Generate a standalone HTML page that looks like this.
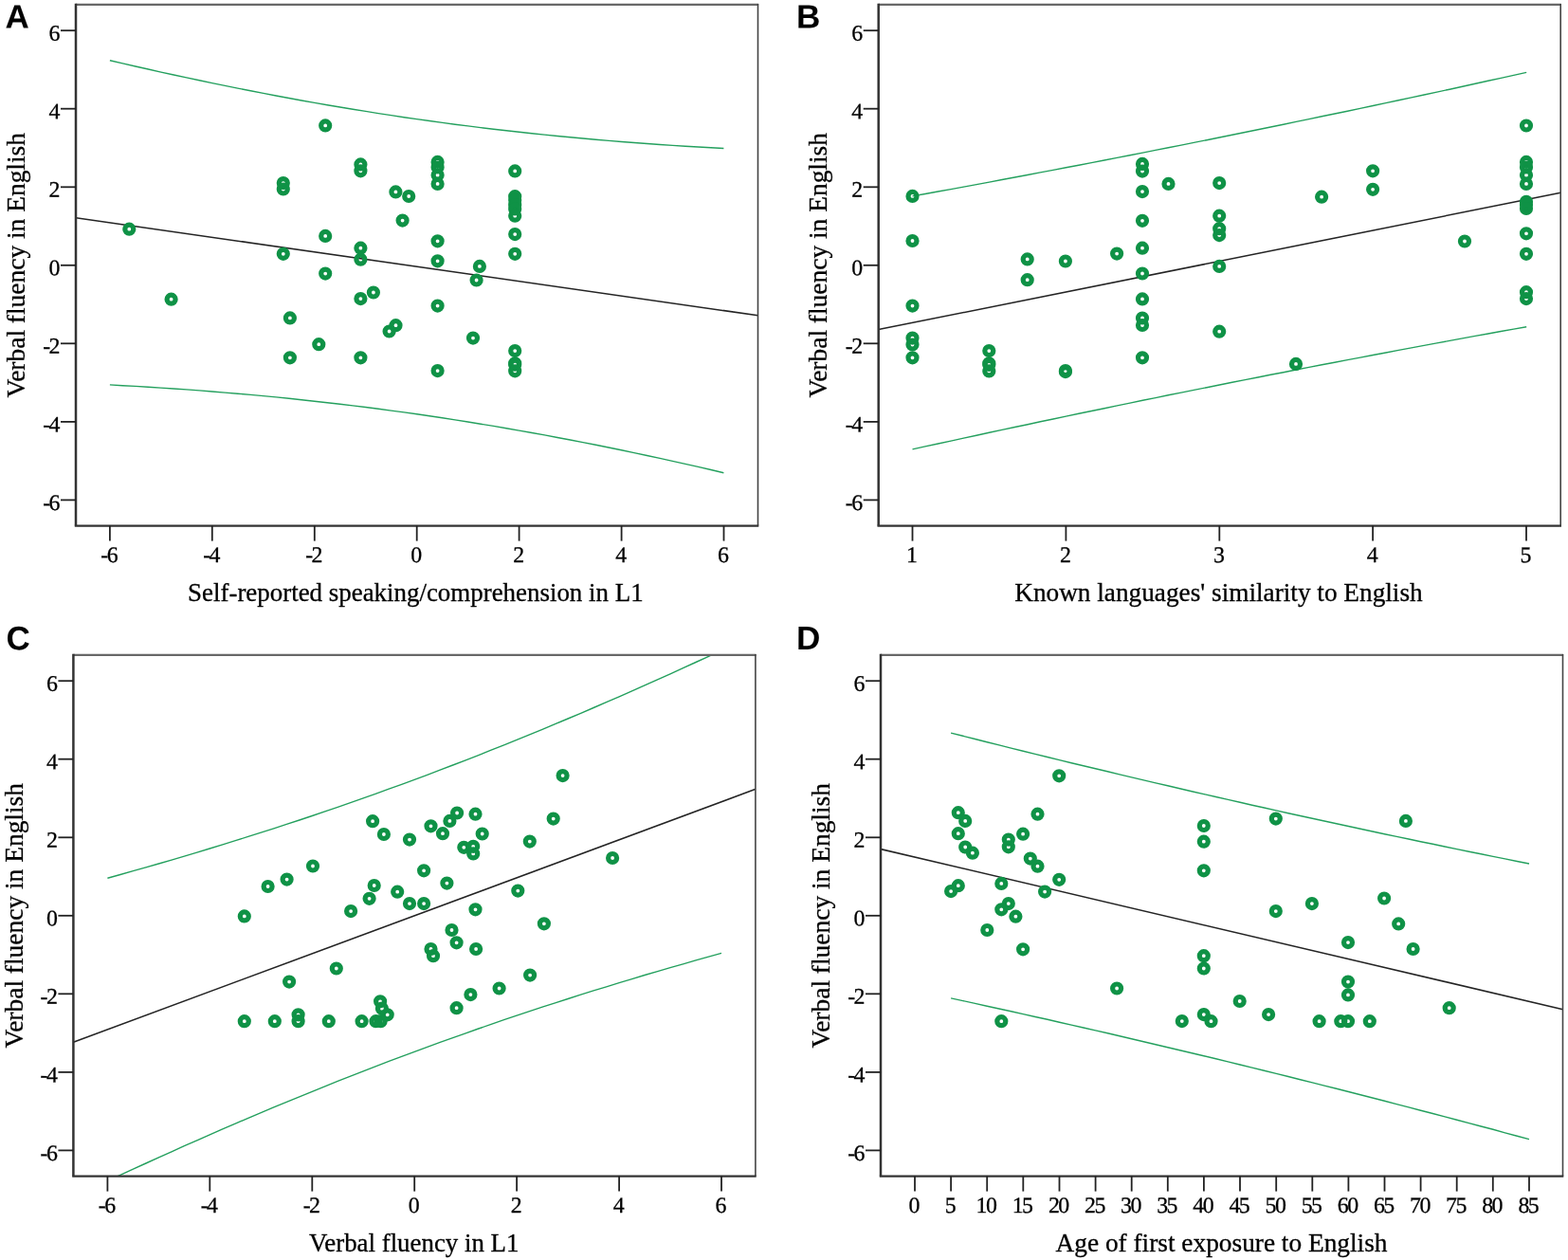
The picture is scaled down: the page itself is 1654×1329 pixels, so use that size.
<!DOCTYPE html>
<html lang="en"><head><meta charset="utf-8"><title>Verbal fluency scatter plots</title>
<style>html,body{margin:0;padding:0;background:#fff}svg{display:block}.t{font-family:"Liberation Serif","Times New Roman",serif;fill:#000}.k{font-size:23.8px;stroke:#000;stroke-width:.3px;letter-spacing:-1.5px}.a{font-size:27px;stroke:#000;stroke-width:.3px}.p{font-family:"Liberation Sans",Arial,sans-serif;font-weight:bold;font-size:35px;fill:#000}.fr{fill:none;stroke:#333333;stroke-width:2.3}.fl{fill:none;stroke:#333;stroke-width:2.5}.ft{fill:none;stroke:#686868;stroke-width:2.3}.fg{fill:none;stroke:#444;stroke-width:1.6}.tk{stroke:#222;stroke-width:1.8;fill:none}.bl{stroke:#242424;stroke-width:1.55;fill:none}.gl{stroke:#24a05e;stroke-width:1.4;fill:none}.pt circle{fill:none;stroke:#0f9246;stroke-width:5.2}</style></head><body>
<svg width="1654" height="1329" viewBox="0 0 1654 1329" role="img" aria-label="Scatter plots of verbal fluency in English against four predictors">
<rect width="1654" height="1329" fill="#ffffff"/>
<g id="panel-A">
<clipPath id="clipA"><rect x="80" y="4.9" width="719.7" height="549.7"/></clipPath>
<g clip-path="url(#clipA)">
<path class="gl" d="M115.9 63.7 L129.4 66.9 L142.9 70.0 L156.4 73.0 L169.9 76.1 L183.3 79.0 L196.8 81.9 L210.3 84.8 L223.8 87.6 L237.3 90.4 L250.8 93.1 L264.3 95.8 L277.8 98.4 L291.3 101.0 L304.8 103.5 L318.2 106.0 L331.7 108.4 L345.2 110.7 L358.7 113.0 L372.2 115.3 L385.7 117.4 L399.2 119.6 L412.7 121.6 L426.2 123.7 L439.6 125.6 L453.1 127.5 L466.6 129.4 L480.1 131.2 L493.6 132.9 L507.1 134.6 L520.6 136.2 L534.1 137.8 L547.6 139.3 L561.1 140.7 L574.5 142.1 L588.0 143.5 L601.5 144.8 L615.0 146.0 L628.5 147.2 L642.0 148.4 L655.5 149.5 L669.0 150.5 L682.5 151.5 L696.0 152.5 L709.4 153.4 L722.9 154.2 L736.4 155.0 L749.9 155.8 L763.4 156.5"/>
<path class="gl" d="M115.9 405.9 L129.4 406.7 L142.9 407.4 L156.4 408.2 L169.9 409.1 L183.3 410.0 L196.8 410.9 L210.3 411.9 L223.8 413.0 L237.3 414.1 L250.8 415.2 L264.3 416.4 L277.8 417.6 L291.3 418.9 L304.8 420.3 L318.2 421.7 L331.7 423.2 L345.2 424.7 L358.7 426.2 L372.2 427.9 L385.7 429.5 L399.2 431.3 L412.7 433.1 L426.2 434.9 L439.6 436.8 L453.1 438.8 L466.6 440.8 L480.1 442.9 L493.6 445.0 L507.1 447.2 L520.6 449.4 L534.1 451.7 L547.6 454.1 L561.1 456.5 L574.5 458.9 L588.0 461.5 L601.5 464.0 L615.0 466.6 L628.5 469.3 L642.0 472.0 L655.5 474.8 L669.0 477.6 L682.5 480.5 L696.0 483.4 L709.4 486.4 L722.9 489.4 L736.4 492.4 L749.9 495.5 L763.4 498.7"/>
<path class="bl" d="M80 229.7 L799.7 332.8"/>
</g>
<g class="pt">
<circle cx="136.3" cy="241.7" r="4.5"/>
<circle cx="180.6" cy="315.7" r="4.5"/>
<circle cx="298.8" cy="193.1" r="4.5"/>
<circle cx="298.8" cy="199.5" r="4.5"/>
<circle cx="298.8" cy="267.8" r="4.5"/>
<circle cx="305.9" cy="335.4" r="4.5"/>
<circle cx="305.9" cy="377.3" r="4.5"/>
<circle cx="336.3" cy="363.2" r="4.5"/>
<circle cx="343.2" cy="132.4" r="4.5"/>
<circle cx="343.2" cy="248.9" r="4.5"/>
<circle cx="343.2" cy="288.6" r="4.5"/>
<circle cx="380.4" cy="173.4" r="4.5"/>
<circle cx="380.4" cy="180.3" r="4.5"/>
<circle cx="380.4" cy="261.7" r="4.5"/>
<circle cx="380.4" cy="273.7" r="4.5"/>
<circle cx="380.4" cy="315.1" r="4.5"/>
<circle cx="380.4" cy="377.3" r="4.5"/>
<circle cx="393.9" cy="308.5" r="4.5"/>
<circle cx="410.6" cy="349.5" r="4.5"/>
<circle cx="417.5" cy="343.2" r="4.5"/>
<circle cx="417.4" cy="202.4" r="4.5"/>
<circle cx="431.2" cy="207" r="4.5"/>
<circle cx="424.6" cy="232.6" r="4.5"/>
<circle cx="461.6" cy="170.9" r="4.5"/>
<circle cx="461.6" cy="176.5" r="4.5"/>
<circle cx="461.6" cy="184.7" r="4.5"/>
<circle cx="461.6" cy="193.9" r="4.5"/>
<circle cx="461.6" cy="254.3" r="4.5"/>
<circle cx="461.6" cy="275.3" r="4.5"/>
<circle cx="461.6" cy="322.6" r="4.5"/>
<circle cx="461.6" cy="391.1" r="4.5"/>
<circle cx="499" cy="356.6" r="4.5"/>
<circle cx="502.6" cy="295.5" r="4.5"/>
<circle cx="505.9" cy="280.9" r="4.5"/>
<circle cx="543.2" cy="180.4" r="4.5"/>
<circle cx="543.2" cy="207.2" r="4.5"/>
<circle cx="543.2" cy="211" r="4.5"/>
<circle cx="543.2" cy="216.2" r="4.5"/>
<circle cx="543.2" cy="220.5" r="4.5"/>
<circle cx="543.2" cy="227.7" r="4.5"/>
<circle cx="543.2" cy="247.1" r="4.5"/>
<circle cx="543.2" cy="267.8" r="4.5"/>
<circle cx="543.2" cy="370.1" r="4.5"/>
<circle cx="543.2" cy="383.3" r="4.5"/>
<circle cx="543.2" cy="384.7" r="4.5"/>
<circle cx="543.2" cy="391.3" r="4.5"/>
</g>
<path class="ft" d="M80 4.9 H800.1"/>
<path class="fg" d="M799.5 4.1 V554.6"/>
<path class="fr" d="M78.8 554.6 H800.3"/>
<path class="fl" d="M80 3.8 V554.6"/>
<path class="tk" d="M64 32.2 H80"/>
<text class="t k" transform="translate(62 42.8) rotate(.2)" text-anchor="end">6</text>
<path class="tk" d="M64 114.7 H80"/>
<text class="t k" transform="translate(62 125.3) rotate(.2)" text-anchor="end">4</text>
<path class="tk" d="M64 197.3 H80"/>
<text class="t k" transform="translate(62 207.9) rotate(.2)" text-anchor="end">2</text>
<path class="tk" d="M64 279.8 H80"/>
<text class="t k" transform="translate(62 290.4) rotate(.2)" text-anchor="end">0</text>
<path class="tk" d="M64 362.3 H80"/>
<text class="t k" transform="translate(62 372.9) rotate(.2)" text-anchor="end">-2</text>
<path class="tk" d="M64 444.9 H80"/>
<text class="t k" transform="translate(62 455.5) rotate(.2)" text-anchor="end">-4</text>
<path class="tk" d="M64 527.4 H80"/>
<text class="t k" transform="translate(62 538) rotate(.2)" text-anchor="end">-6</text>
<path class="tk" d="M115.9 554.6 V570.6"/>
<text class="t k" transform="translate(114.7 593.1) rotate(.2)" text-anchor="middle">-6</text>
<path class="tk" d="M223.8 554.6 V570.6"/>
<text class="t k" transform="translate(222.6 593.1) rotate(.2)" text-anchor="middle">-4</text>
<path class="tk" d="M331.8 554.6 V570.6"/>
<text class="t k" transform="translate(330.6 593.1) rotate(.2)" text-anchor="middle">-2</text>
<path class="tk" d="M439.7 554.6 V570.6"/>
<text class="t k" transform="translate(438.5 593.1) rotate(.2)" text-anchor="middle">0</text>
<path class="tk" d="M547.6 554.6 V570.6"/>
<text class="t k" transform="translate(546.4 593.1) rotate(.2)" text-anchor="middle">2</text>
<path class="tk" d="M655.6 554.6 V570.6"/>
<text class="t k" transform="translate(654.4 593.1) rotate(.2)" text-anchor="middle">4</text>
<path class="tk" d="M763.5 554.6 V570.6"/>
<text class="t k" transform="translate(762.3 593.1) rotate(.2)" text-anchor="middle">6</text>
<text class="t a" x="198.1" y="633.9" textLength="480.5" lengthAdjust="spacingAndGlyphs">Self-reported speaking/comprehension in L1</text>
<text class="t a" transform="translate(25.6 279.8) rotate(-90)" x="-139.8" textLength="279.6" lengthAdjust="spacingAndGlyphs">Verbal fluency in English</text>
<text class="p" transform="translate(5.5 29.6) rotate(.2)">A</text>
</g>
<g id="panel-B">
<clipPath id="clipB"><rect x="926.7" y="4.9" width="719.7" height="549.7"/></clipPath>
<g clip-path="url(#clipB)">
<path class="gl" d="M962.5 206.9 L976.0 204.5 L989.5 202.0 L1003.0 199.6 L1016.5 197.1 L1030.0 194.6 L1043.5 192.1 L1057.0 189.5 L1070.5 187.0 L1083.9 184.5 L1097.4 181.9 L1110.9 179.4 L1124.4 176.8 L1137.9 174.2 L1151.4 171.6 L1164.9 169.0 L1178.4 166.4 L1191.9 163.7 L1205.4 161.1 L1218.9 158.4 L1232.4 155.8 L1245.9 153.1 L1259.4 150.4 L1272.9 147.7 L1286.3 145.0 L1299.8 142.2 L1313.3 139.5 L1326.8 136.8 L1340.3 134.0 L1353.8 131.2 L1367.3 128.4 L1380.8 125.6 L1394.3 122.8 L1407.8 120.0 L1421.3 117.2 L1434.8 114.4 L1448.3 111.5 L1461.8 108.6 L1475.3 105.8 L1488.8 102.9 L1502.2 100.0 L1515.7 97.1 L1529.2 94.2 L1542.7 91.2 L1556.2 88.3 L1569.7 85.3 L1583.2 82.4 L1596.7 79.4 L1610.2 76.4"/>
<path class="gl" d="M962.5 473.9 L976.0 470.9 L989.5 468.0 L1003.0 465.1 L1016.5 462.1 L1030.0 459.2 L1043.5 456.3 L1057.0 453.4 L1070.5 450.5 L1083.9 447.7 L1097.4 444.8 L1110.9 442.0 L1124.4 439.1 L1137.9 436.3 L1151.4 433.5 L1164.9 430.7 L1178.4 427.9 L1191.9 425.1 L1205.4 422.3 L1218.9 419.6 L1232.4 416.8 L1245.9 414.1 L1259.4 411.4 L1272.9 408.7 L1286.3 406.0 L1299.8 403.3 L1313.3 400.6 L1326.8 398.0 L1340.3 395.3 L1353.8 392.7 L1367.3 390.0 L1380.8 387.4 L1394.3 384.8 L1407.8 382.2 L1421.3 379.6 L1434.8 377.1 L1448.3 374.5 L1461.8 372.0 L1475.3 369.4 L1488.8 366.9 L1502.2 364.4 L1515.7 361.9 L1529.2 359.4 L1542.7 356.9 L1556.2 354.4 L1569.7 352.0 L1583.2 349.5 L1596.7 347.1 L1610.2 344.7"/>
<path class="bl" d="M926.7 347.6 L1646.3 203.3"/>
</g>
<g class="pt">
<circle cx="962.5" cy="206.9" r="4.5"/>
<circle cx="962.5" cy="254" r="4.5"/>
<circle cx="962.5" cy="322.6" r="4.5"/>
<circle cx="962.5" cy="356.6" r="4.5"/>
<circle cx="962.5" cy="363.5" r="4.5"/>
<circle cx="962.5" cy="377.3" r="4.5"/>
<circle cx="1043.3" cy="370.1" r="4.5"/>
<circle cx="1043.3" cy="383.3" r="4.5"/>
<circle cx="1043.3" cy="384.8" r="4.5"/>
<circle cx="1043.3" cy="391.4" r="4.5"/>
<circle cx="1083.7" cy="273.4" r="4.5"/>
<circle cx="1083.7" cy="295.2" r="4.5"/>
<circle cx="1123.9" cy="275.5" r="4.5"/>
<circle cx="1123.9" cy="391.1" r="4.5"/>
<circle cx="1123.9" cy="392.1" r="4.5"/>
<circle cx="1178.1" cy="267.6" r="4.5"/>
<circle cx="1205" cy="172.9" r="4.5"/>
<circle cx="1205" cy="180.6" r="4.5"/>
<circle cx="1205" cy="202.1" r="4.5"/>
<circle cx="1205" cy="232.8" r="4.5"/>
<circle cx="1205" cy="261.7" r="4.5"/>
<circle cx="1205" cy="288.5" r="4.5"/>
<circle cx="1205" cy="315.4" r="4.5"/>
<circle cx="1205" cy="335.5" r="4.5"/>
<circle cx="1205" cy="343" r="4.5"/>
<circle cx="1205" cy="377.3" r="4.5"/>
<circle cx="1232.5" cy="193.9" r="4.5"/>
<circle cx="1286.2" cy="193.1" r="4.5"/>
<circle cx="1286.2" cy="227.7" r="4.5"/>
<circle cx="1286.2" cy="241.2" r="4.5"/>
<circle cx="1286.2" cy="248.1" r="4.5"/>
<circle cx="1286.2" cy="280.9" r="4.5"/>
<circle cx="1286.2" cy="349.7" r="4.5"/>
<circle cx="1367" cy="383.9" r="4.5"/>
<circle cx="1394.1" cy="207.7" r="4.5"/>
<circle cx="1448.1" cy="180.3" r="4.5"/>
<circle cx="1448.1" cy="199.8" r="4.5"/>
<circle cx="1545" cy="254.5" r="4.5"/>
<circle cx="1610" cy="132.5" r="4.5"/>
<circle cx="1610" cy="170.9" r="4.5"/>
<circle cx="1610" cy="176.5" r="4.5"/>
<circle cx="1610" cy="184.7" r="4.5"/>
<circle cx="1610" cy="193.9" r="4.5"/>
<circle cx="1610" cy="212.8" r="4.5"/>
<circle cx="1610" cy="216.1" r="4.5"/>
<circle cx="1610" cy="220" r="4.5"/>
<circle cx="1610" cy="246.3" r="4.5"/>
<circle cx="1610" cy="267.8" r="4.5"/>
<circle cx="1610" cy="308.2" r="4.5"/>
<circle cx="1610" cy="315.1" r="4.5"/>
</g>
<path class="ft" d="M926.7 4.9 H1646.8"/>
<path class="fg" d="M1646.2 4.1 V554.6"/>
<path class="fr" d="M925.5 554.6 H1647"/>
<path class="fl" d="M926.7 3.8 V554.6"/>
<path class="tk" d="M910.7 32.2 H926.7"/>
<text class="t k" transform="translate(908.7 42.8) rotate(.2)" text-anchor="end">6</text>
<path class="tk" d="M910.7 114.7 H926.7"/>
<text class="t k" transform="translate(908.7 125.3) rotate(.2)" text-anchor="end">4</text>
<path class="tk" d="M910.7 197.3 H926.7"/>
<text class="t k" transform="translate(908.7 207.9) rotate(.2)" text-anchor="end">2</text>
<path class="tk" d="M910.7 279.8 H926.7"/>
<text class="t k" transform="translate(908.7 290.4) rotate(.2)" text-anchor="end">0</text>
<path class="tk" d="M910.7 362.3 H926.7"/>
<text class="t k" transform="translate(908.7 372.9) rotate(.2)" text-anchor="end">-2</text>
<path class="tk" d="M910.7 444.9 H926.7"/>
<text class="t k" transform="translate(908.7 455.5) rotate(.2)" text-anchor="end">-4</text>
<path class="tk" d="M910.7 527.4 H926.7"/>
<text class="t k" transform="translate(908.7 538) rotate(.2)" text-anchor="end">-6</text>
<path class="tk" d="M962.5 554.6 V570.6"/>
<text class="t k" transform="translate(961.3 593.1) rotate(.2)" text-anchor="middle">1</text>
<path class="tk" d="M1124.4 554.6 V570.6"/>
<text class="t k" transform="translate(1123.2 593.1) rotate(.2)" text-anchor="middle">2</text>
<path class="tk" d="M1286.3 554.6 V570.6"/>
<text class="t k" transform="translate(1285.1 593.1) rotate(.2)" text-anchor="middle">3</text>
<path class="tk" d="M1448.1 554.6 V570.6"/>
<text class="t k" transform="translate(1446.9 593.1) rotate(.2)" text-anchor="middle">4</text>
<path class="tk" d="M1610 554.6 V570.6"/>
<text class="t k" transform="translate(1608.8 593.1) rotate(.2)" text-anchor="middle">5</text>
<text class="t a" x="1070.2" y="633.9" textLength="430.5" lengthAdjust="spacingAndGlyphs">Known languages' similarity to English</text>
<text class="t a" transform="translate(872.4 279.8) rotate(-90)" x="-139.8" textLength="279.6" lengthAdjust="spacingAndGlyphs">Verbal fluency in English</text>
<text class="p" transform="translate(840 29.6) rotate(.2)">B</text>
</g>
<g id="panel-C">
<clipPath id="clipC"><rect x="77.4" y="690.9" width="719.7" height="549.7"/></clipPath>
<g clip-path="url(#clipC)">
<path class="gl" d="M113.4 926.2 L126.9 922.5 L140.4 918.7 L153.9 914.9 L167.4 911.0 L180.9 907.1 L194.4 903.1 L207.8 899.1 L221.3 895.0 L234.8 890.9 L248.3 886.7 L261.8 882.4 L275.3 878.2 L288.8 873.8 L302.3 869.4 L315.8 865.0 L329.3 860.5 L342.8 855.9 L356.2 851.3 L369.7 846.6 L383.2 841.9 L396.7 837.1 L410.2 832.2 L423.7 827.3 L437.2 822.3 L450.7 817.3 L464.2 812.2 L477.7 807.0 L491.2 801.8 L504.7 796.6 L518.1 791.2 L531.6 785.8 L545.1 780.4 L558.6 774.9 L572.1 769.3 L585.6 763.7 L599.1 758.0 L612.6 752.3 L626.1 746.5 L639.6 740.7 L653.1 734.8 L666.6 728.9 L680.0 722.9 L693.5 716.9 L707.0 710.8 L720.5 704.7 L734.0 698.5 L747.5 692.3 L761.0 686.0"/>
<path class="gl" d="M113.4 1245.7 L126.9 1239.4 L140.4 1233.2 L153.9 1227.0 L167.4 1220.9 L180.9 1214.8 L194.4 1208.7 L207.8 1202.8 L221.3 1196.8 L234.8 1190.9 L248.3 1185.1 L261.8 1179.3 L275.3 1173.6 L288.8 1167.9 L302.3 1162.3 L315.8 1156.8 L329.3 1151.3 L342.8 1145.8 L356.2 1140.4 L369.7 1135.1 L383.2 1129.8 L396.7 1124.6 L410.2 1119.4 L423.7 1114.4 L437.2 1109.3 L450.7 1104.3 L464.2 1099.4 L477.7 1094.6 L491.2 1089.8 L504.7 1085.0 L518.1 1080.4 L531.6 1075.7 L545.1 1071.2 L558.6 1066.7 L572.1 1062.2 L585.6 1057.8 L599.1 1053.5 L612.6 1049.2 L626.1 1044.9 L639.6 1040.8 L653.1 1036.6 L666.6 1032.6 L680.0 1028.5 L693.5 1024.6 L707.0 1020.6 L720.5 1016.8 L734.0 1012.9 L747.5 1009.1 L761.0 1005.4"/>
<path class="bl" d="M77.4 1099.3 L797.1 832.3"/>
</g>
<g class="pt">
<circle cx="257.8" cy="966.4" r="4.5"/>
<circle cx="282.6" cy="935" r="4.5"/>
<circle cx="302.6" cy="927.6" r="4.5"/>
<circle cx="330" cy="913.5" r="4.5"/>
<circle cx="370.1" cy="961.1" r="4.5"/>
<circle cx="389.6" cy="947.8" r="4.5"/>
<circle cx="394.7" cy="934" r="4.5"/>
<circle cx="393.1" cy="866.2" r="4.5"/>
<circle cx="404.9" cy="880" r="4.5"/>
<circle cx="419.2" cy="940.7" r="4.5"/>
<circle cx="432" cy="885.6" r="4.5"/>
<circle cx="454.5" cy="871.3" r="4.5"/>
<circle cx="467" cy="879.2" r="4.5"/>
<circle cx="474.4" cy="865.9" r="4.5"/>
<circle cx="482.1" cy="857.5" r="4.5"/>
<circle cx="501.5" cy="858.7" r="4.5"/>
<circle cx="508.7" cy="879.5" r="4.5"/>
<circle cx="489.3" cy="893.8" r="4.5"/>
<circle cx="499.2" cy="892.8" r="4.5"/>
<circle cx="499.2" cy="900.4" r="4.5"/>
<circle cx="558.8" cy="887.6" r="4.5"/>
<circle cx="583.7" cy="863.6" r="4.5"/>
<circle cx="593.6" cy="818.1" r="4.5"/>
<circle cx="646.1" cy="905" r="4.5"/>
<circle cx="447.1" cy="918.3" r="4.5"/>
<circle cx="471.4" cy="931.6" r="4.5"/>
<circle cx="432" cy="953.1" r="4.5"/>
<circle cx="447.1" cy="953.1" r="4.5"/>
<circle cx="546.3" cy="939.6" r="4.5"/>
<circle cx="501.5" cy="959.3" r="4.5"/>
<circle cx="573.9" cy="974.3" r="4.5"/>
<circle cx="476.5" cy="981" r="4.5"/>
<circle cx="481.6" cy="994.3" r="4.5"/>
<circle cx="454.5" cy="1001" r="4.5"/>
<circle cx="457" cy="1008.2" r="4.5"/>
<circle cx="502.1" cy="1001" r="4.5"/>
<circle cx="559.1" cy="1028.6" r="4.5"/>
<circle cx="526.6" cy="1042.5" r="4.5"/>
<circle cx="496.4" cy="1049.1" r="4.5"/>
<circle cx="481.6" cy="1063.2" r="4.5"/>
<circle cx="257.8" cy="1077.2" r="4.5"/>
<circle cx="289.8" cy="1077.2" r="4.5"/>
<circle cx="314.6" cy="1070.3" r="4.5"/>
<circle cx="314.6" cy="1077.2" r="4.5"/>
<circle cx="346.8" cy="1077.2" r="4.5"/>
<circle cx="381.6" cy="1077.2" r="4.5"/>
<circle cx="396.5" cy="1077.2" r="4.5"/>
<circle cx="401.6" cy="1077.2" r="4.5"/>
<circle cx="401.1" cy="1056.3" r="4.5"/>
<circle cx="402.9" cy="1063.7" r="4.5"/>
<circle cx="408.7" cy="1070.3" r="4.5"/>
<circle cx="305.1" cy="1035.6" r="4.5"/>
<circle cx="354.8" cy="1021.5" r="4.5"/>
</g>
<path class="ft" d="M77.4 690.9 H797.5"/>
<path class="fg" d="M796.9 690.1 V1240.6"/>
<path class="fr" d="M76.2 1240.6 H797.7"/>
<path class="fl" d="M77.4 689.8 V1240.6"/>
<path class="tk" d="M61.4 718.2 H77.4"/>
<text class="t k" transform="translate(59.4 728.8) rotate(.2)" text-anchor="end">6</text>
<path class="tk" d="M61.4 800.7 H77.4"/>
<text class="t k" transform="translate(59.4 811.3) rotate(.2)" text-anchor="end">4</text>
<path class="tk" d="M61.4 883.3 H77.4"/>
<text class="t k" transform="translate(59.4 893.9) rotate(.2)" text-anchor="end">2</text>
<path class="tk" d="M61.4 965.8 H77.4"/>
<text class="t k" transform="translate(59.4 976.4) rotate(.2)" text-anchor="end">0</text>
<path class="tk" d="M61.4 1048.3 H77.4"/>
<text class="t k" transform="translate(59.4 1058.9) rotate(.2)" text-anchor="end">-2</text>
<path class="tk" d="M61.4 1130.9 H77.4"/>
<text class="t k" transform="translate(59.4 1141.5) rotate(.2)" text-anchor="end">-4</text>
<path class="tk" d="M61.4 1213.4 H77.4"/>
<text class="t k" transform="translate(59.4 1224) rotate(.2)" text-anchor="end">-6</text>
<path class="tk" d="M113.4 1240.6 V1256.6"/>
<text class="t k" transform="translate(112.2 1279.1) rotate(.2)" text-anchor="middle">-6</text>
<path class="tk" d="M221.3 1240.6 V1256.6"/>
<text class="t k" transform="translate(220.1 1279.1) rotate(.2)" text-anchor="middle">-4</text>
<path class="tk" d="M329.3 1240.6 V1256.6"/>
<text class="t k" transform="translate(328.1 1279.1) rotate(.2)" text-anchor="middle">-2</text>
<path class="tk" d="M437.2 1240.6 V1256.6"/>
<text class="t k" transform="translate(436 1279.1) rotate(.2)" text-anchor="middle">0</text>
<path class="tk" d="M545.1 1240.6 V1256.6"/>
<text class="t k" transform="translate(543.9 1279.1) rotate(.2)" text-anchor="middle">2</text>
<path class="tk" d="M653.1 1240.6 V1256.6"/>
<text class="t k" transform="translate(651.9 1279.1) rotate(.2)" text-anchor="middle">4</text>
<path class="tk" d="M761 1240.6 V1256.6"/>
<text class="t k" transform="translate(759.8 1279.1) rotate(.2)" text-anchor="middle">6</text>
<text class="t a" x="325.9" y="1319.9" textLength="221.5" lengthAdjust="spacingAndGlyphs">Verbal fluency in L1</text>
<text class="t a" transform="translate(23.8 965.8) rotate(-90)" x="-139.8" textLength="279.6" lengthAdjust="spacingAndGlyphs">Verbal fluency in English</text>
<text class="p" transform="translate(6.5 685.2) rotate(.2)">C</text>
</g>
<g id="panel-D">
<clipPath id="clipD"><rect x="929" y="690.9" width="719.7" height="549.7"/></clipPath>
<g clip-path="url(#clipD)">
<path class="gl" d="M1003.1 773.1 L1015.8 776.3 L1028.5 779.5 L1041.2 782.7 L1053.9 785.9 L1066.6 789.1 L1079.3 792.2 L1092.0 795.4 L1104.8 798.5 L1117.5 801.6 L1130.2 804.7 L1142.9 807.7 L1155.6 810.8 L1168.3 813.8 L1181.0 816.9 L1193.7 819.9 L1206.4 822.9 L1219.1 825.9 L1231.8 828.8 L1244.5 831.8 L1257.2 834.7 L1269.9 837.6 L1282.6 840.5 L1295.3 843.4 L1308.0 846.3 L1320.8 849.2 L1333.5 852.0 L1346.2 854.9 L1358.9 857.7 L1371.6 860.5 L1384.3 863.3 L1397.0 866.0 L1409.7 868.8 L1422.4 871.5 L1435.1 874.3 L1447.8 877.0 L1460.5 879.7 L1473.2 882.4 L1485.9 885.0 L1498.6 887.7 L1511.3 890.3 L1524.1 893.0 L1536.8 895.6 L1549.5 898.2 L1562.2 900.8 L1574.9 903.4 L1587.6 905.9 L1600.3 908.5 L1613.0 911.0"/>
<path class="gl" d="M1003.1 1052.9 L1015.8 1055.6 L1028.5 1058.4 L1041.2 1061.2 L1053.9 1064.0 L1066.6 1066.8 L1079.3 1069.6 L1092.0 1072.5 L1104.8 1075.3 L1117.5 1078.2 L1130.2 1081.1 L1142.9 1084.0 L1155.6 1086.9 L1168.3 1089.8 L1181.0 1092.7 L1193.7 1095.7 L1206.4 1098.7 L1219.1 1101.7 L1231.8 1104.7 L1244.5 1107.7 L1257.2 1110.7 L1269.9 1113.8 L1282.6 1116.8 L1295.3 1119.9 L1308.0 1123.0 L1320.8 1126.1 L1333.5 1129.2 L1346.2 1132.4 L1358.9 1135.5 L1371.6 1138.7 L1384.3 1141.9 L1397.0 1145.1 L1409.7 1148.3 L1422.4 1151.5 L1435.1 1154.8 L1447.8 1158.0 L1460.5 1161.3 L1473.2 1164.6 L1485.9 1167.9 L1498.6 1171.2 L1511.3 1174.5 L1524.1 1177.9 L1536.8 1181.2 L1549.5 1184.6 L1562.2 1188.0 L1574.9 1191.3 L1587.6 1194.8 L1600.3 1198.2 L1613.0 1201.6"/>
<path class="bl" d="M929 895.6 L1648.7 1064.7"/>
</g>
<g class="pt">
<circle cx="1010.8" cy="857.2" r="4.5"/>
<circle cx="1018.2" cy="865.9" r="4.5"/>
<circle cx="1010.8" cy="879.2" r="4.5"/>
<circle cx="1018.2" cy="893.5" r="4.5"/>
<circle cx="1025.9" cy="899.7" r="4.5"/>
<circle cx="1010.8" cy="934.2" r="4.5"/>
<circle cx="1003.1" cy="940.1" r="4.5"/>
<circle cx="1063.8" cy="885.6" r="4.5"/>
<circle cx="1063.8" cy="893.3" r="4.5"/>
<circle cx="1079.1" cy="879.7" r="4.5"/>
<circle cx="1094.5" cy="858.7" r="4.5"/>
<circle cx="1117.2" cy="818.3" r="4.5"/>
<circle cx="1086.8" cy="905.6" r="4.5"/>
<circle cx="1094.5" cy="913.7" r="4.5"/>
<circle cx="1117.2" cy="927.8" r="4.5"/>
<circle cx="1102.1" cy="940.6" r="4.5"/>
<circle cx="1056.3" cy="931.9" r="4.5"/>
<circle cx="1063.8" cy="953.1" r="4.5"/>
<circle cx="1056.3" cy="959.3" r="4.5"/>
<circle cx="1071.4" cy="966.7" r="4.5"/>
<circle cx="1041.3" cy="981" r="4.5"/>
<circle cx="1079.1" cy="1001.3" r="4.5"/>
<circle cx="1178.1" cy="1042.5" r="4.5"/>
<circle cx="1056.3" cy="1077.2" r="4.5"/>
<circle cx="1269.8" cy="871" r="4.5"/>
<circle cx="1269.8" cy="887.7" r="4.5"/>
<circle cx="1269.8" cy="918.3" r="4.5"/>
<circle cx="1345.8" cy="863.6" r="4.5"/>
<circle cx="1482.9" cy="865.9" r="4.5"/>
<circle cx="1345.8" cy="961.1" r="4.5"/>
<circle cx="1383.9" cy="953.1" r="4.5"/>
<circle cx="1460.1" cy="947.5" r="4.5"/>
<circle cx="1475.2" cy="974.4" r="4.5"/>
<circle cx="1422" cy="994.1" r="4.5"/>
<circle cx="1490.6" cy="1001" r="4.5"/>
<circle cx="1269.8" cy="1008.2" r="4.5"/>
<circle cx="1269.8" cy="1021.5" r="4.5"/>
<circle cx="1422" cy="1035.6" r="4.5"/>
<circle cx="1422" cy="1049.4" r="4.5"/>
<circle cx="1307.7" cy="1056" r="4.5"/>
<circle cx="1528.7" cy="1063.2" r="4.5"/>
<circle cx="1338.1" cy="1070.1" r="4.5"/>
<circle cx="1269.8" cy="1070.1" r="4.5"/>
<circle cx="1277.5" cy="1077.2" r="4.5"/>
<circle cx="1246.8" cy="1077.1" r="4.5"/>
<circle cx="1391.6" cy="1077.2" r="4.5"/>
<circle cx="1414.3" cy="1077.2" r="4.5"/>
<circle cx="1422" cy="1077.2" r="4.5"/>
<circle cx="1444.8" cy="1077.2" r="4.5"/>
</g>
<path class="ft" d="M929 690.9 H1649.1"/>
<path class="fg" d="M1648.5 690.1 V1240.6"/>
<path class="fr" d="M927.8 1240.6 H1649.3"/>
<path class="fl" d="M929 689.8 V1240.6"/>
<path class="tk" d="M913 718.2 H929"/>
<text class="t k" transform="translate(911 728.8) rotate(.2)" text-anchor="end">6</text>
<path class="tk" d="M913 800.7 H929"/>
<text class="t k" transform="translate(911 811.3) rotate(.2)" text-anchor="end">4</text>
<path class="tk" d="M913 883.3 H929"/>
<text class="t k" transform="translate(911 893.9) rotate(.2)" text-anchor="end">2</text>
<path class="tk" d="M913 965.8 H929"/>
<text class="t k" transform="translate(911 976.4) rotate(.2)" text-anchor="end">0</text>
<path class="tk" d="M913 1048.3 H929"/>
<text class="t k" transform="translate(911 1058.9) rotate(.2)" text-anchor="end">-2</text>
<path class="tk" d="M913 1130.9 H929"/>
<text class="t k" transform="translate(911 1141.5) rotate(.2)" text-anchor="end">-4</text>
<path class="tk" d="M913 1213.4 H929"/>
<text class="t k" transform="translate(911 1224) rotate(.2)" text-anchor="end">-6</text>
<path class="tk" d="M965 1240.6 V1256.6"/>
<text class="t k" transform="translate(963.8 1279.1) rotate(.2)" text-anchor="middle">0</text>
<path class="tk" d="M1003.1 1240.6 V1256.6"/>
<text class="t k" transform="translate(1001.9 1279.1) rotate(.2)" text-anchor="middle">5</text>
<path class="tk" d="M1041.2 1240.6 V1256.6"/>
<text class="t k" transform="translate(1040 1279.1) rotate(.2)" text-anchor="middle">10</text>
<path class="tk" d="M1079.3 1240.6 V1256.6"/>
<text class="t k" transform="translate(1078.1 1279.1) rotate(.2)" text-anchor="middle">15</text>
<path class="tk" d="M1117.5 1240.6 V1256.6"/>
<text class="t k" transform="translate(1116.3 1279.1) rotate(.2)" text-anchor="middle">20</text>
<path class="tk" d="M1155.6 1240.6 V1256.6"/>
<text class="t k" transform="translate(1154.4 1279.1) rotate(.2)" text-anchor="middle">25</text>
<path class="tk" d="M1193.7 1240.6 V1256.6"/>
<text class="t k" transform="translate(1192.5 1279.1) rotate(.2)" text-anchor="middle">30</text>
<path class="tk" d="M1231.8 1240.6 V1256.6"/>
<text class="t k" transform="translate(1230.6 1279.1) rotate(.2)" text-anchor="middle">35</text>
<path class="tk" d="M1269.9 1240.6 V1256.6"/>
<text class="t k" transform="translate(1268.7 1279.1) rotate(.2)" text-anchor="middle">40</text>
<path class="tk" d="M1308 1240.6 V1256.6"/>
<text class="t k" transform="translate(1306.8 1279.1) rotate(.2)" text-anchor="middle">45</text>
<path class="tk" d="M1346.2 1240.6 V1256.6"/>
<text class="t k" transform="translate(1345 1279.1) rotate(.2)" text-anchor="middle">50</text>
<path class="tk" d="M1384.3 1240.6 V1256.6"/>
<text class="t k" transform="translate(1383.1 1279.1) rotate(.2)" text-anchor="middle">55</text>
<path class="tk" d="M1422.4 1240.6 V1256.6"/>
<text class="t k" transform="translate(1421.2 1279.1) rotate(.2)" text-anchor="middle">60</text>
<path class="tk" d="M1460.5 1240.6 V1256.6"/>
<text class="t k" transform="translate(1459.3 1279.1) rotate(.2)" text-anchor="middle">65</text>
<path class="tk" d="M1498.6 1240.6 V1256.6"/>
<text class="t k" transform="translate(1497.4 1279.1) rotate(.2)" text-anchor="middle">70</text>
<path class="tk" d="M1536.7 1240.6 V1256.6"/>
<text class="t k" transform="translate(1535.5 1279.1) rotate(.2)" text-anchor="middle">75</text>
<path class="tk" d="M1574.8 1240.6 V1256.6"/>
<text class="t k" transform="translate(1573.6 1279.1) rotate(.2)" text-anchor="middle">80</text>
<path class="tk" d="M1613 1240.6 V1256.6"/>
<text class="t k" transform="translate(1611.8 1279.1) rotate(.2)" text-anchor="middle">85</text>
<text class="t a" x="1113.5" y="1319.9" textLength="350" lengthAdjust="spacingAndGlyphs">Age of first exposure to English</text>
<text class="t a" transform="translate(874.5 965.8) rotate(-90)" x="-139.8" textLength="279.6" lengthAdjust="spacingAndGlyphs">Verbal fluency in English</text>
<text class="p" transform="translate(840 685) rotate(.2)">D</text>
</g>
</svg></body></html>
